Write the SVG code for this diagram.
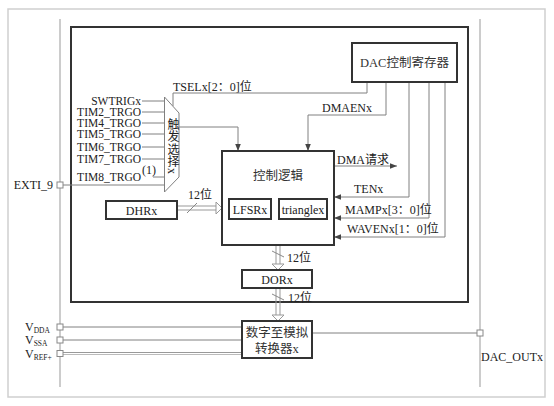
<svg xmlns="http://www.w3.org/2000/svg" width="554" height="406" viewBox="0 0 554 406">
<defs>
<style>
.t{font-family:"Liberation Serif","Noto Sans CJK SC",serif;font-size:12px;fill:#222}
.i{font-family:"Liberation Serif","Noto Sans CJK SC",serif;font-size:11.5px;fill:#222}
.c{font-family:"Liberation Serif","Noto Sans CJK SC",serif;font-size:12.5px;fill:#333}
.sub{font-size:7.5px}
.ln{fill:none;stroke:#808080;stroke-width:1}
.box{fill:#fff;stroke:#333;stroke-width:2}
.pin{fill:#fff;stroke:#888;stroke-width:1}
.bus{fill:none;stroke:#999;stroke-width:1}
.hh{fill:#fff;stroke:#999;stroke-width:1}
</style>
<marker id="ah" viewBox="0 0 8 8" refX="8" refY="4" markerWidth="7" markerHeight="7" markerUnits="userSpaceOnUse" orient="auto">
<path d="M0,0.8 L8,4 L0,7.2 Z" fill="#444"/>
</marker>
</defs>
<rect x="0" y="0" width="554" height="406" fill="#fff"/>
<rect x="8" y="9" width="537" height="388" fill="none" stroke="#cfcfcf" stroke-width="1.5"/>
<line x1="60" y1="19" x2="60" y2="387" stroke="#999" stroke-width="1"/>
<line x1="480" y1="19" x2="480" y2="387" stroke="#999" stroke-width="1"/>
<rect x="71" y="27" width="397" height="275" fill="none" stroke="#333" stroke-width="2"/>

<g id="connectors">
<line class="ln" x1="142" y1="101" x2="165" y2="101"/>
<line class="ln" x1="142" y1="112" x2="165" y2="112"/>
<line class="ln" x1="142" y1="123" x2="165" y2="123"/>
<line class="ln" x1="142" y1="134" x2="165" y2="134"/>
<line class="ln" x1="142" y1="147" x2="165" y2="147"/>
<line class="ln" x1="142" y1="159" x2="165" y2="159"/>
<line class="ln" x1="153" y1="177" x2="165" y2="177"/>
<line class="ln" x1="63" y1="185" x2="165" y2="185"/>
<polyline class="ln" points="367,82 367,93 173,93 173,106"/>
<polyline class="ln" points="386,82 386,115 308,115 308,151" marker-end="url(#ah)"/>
<polyline class="ln" points="179,127 238,127 238,151" marker-end="url(#ah)"/>
<line class="ln" x1="334" y1="166" x2="397" y2="166" marker-end="url(#ah)"/>
<polyline class="ln" points="409,82 409,197 334,197" marker-end="url(#ah)"/>
<polyline class="ln" points="429,82 429,218 334,218" marker-end="url(#ah)"/>
<polyline class="ln" points="445,82 445,237 334,237" marker-end="url(#ah)"/>
<line class="bus" x1="177" y1="206" x2="216" y2="206"/>
<line class="bus" x1="177" y1="210" x2="216" y2="210"/>
<polygon class="hh" points="216,202 222,208 216,214"/>
<line x1="187" y1="213" x2="197" y2="203" stroke="#888" stroke-width="1"/>
<line class="bus" x1="276" y1="245" x2="276" y2="264"/>
<line class="bus" x1="280" y1="245" x2="280" y2="264"/>
<polygon class="hh" points="272,264 284,264 278,270"/>
<line x1="272" y1="251" x2="284" y2="257" stroke="#888" stroke-width="1"/>
<line class="bus" x1="276" y1="288" x2="276" y2="315"/>
<line class="bus" x1="280" y1="288" x2="280" y2="315"/>
<polygon class="hh" points="272,315 284,315 278,321"/>
<line x1="272" y1="294" x2="284" y2="300" stroke="#888" stroke-width="1"/>
<line class="ln" x1="63" y1="327" x2="242" y2="327"/>
<line class="ln" x1="63" y1="340" x2="242" y2="340"/>
<line x1="63" y1="352.5" x2="242" y2="352.5" stroke="#999" stroke-width="1"/>
<line x1="63" y1="354.5" x2="242" y2="354.5" stroke="#bbb" stroke-width="1"/>
<line class="ln" x1="312" y1="333" x2="477" y2="333"/>
</g>

<g id="mux">
<polygon points="164.5,97 179,113 179,177 164.5,192" fill="#fff" stroke="#808080" stroke-width="1"/>
<text class="t" x="172" y="118" font-size="11" letter-spacing="0.5" style="writing-mode:vertical-rl">触发选择x</text>
</g>

<g id="inputs">
<text class="i" x="141" y="105" text-anchor="end">SWTRIGx</text>
<text class="i" x="141" y="116" text-anchor="end">TIM2_TRGO</text>
<text class="i" x="141" y="127" text-anchor="end">TIM4_TRGO</text>
<text class="i" x="141" y="138" text-anchor="end">TIM5_TRGO</text>
<text class="i" x="141" y="151" text-anchor="end">TIM6_TRGO</text>
<text class="i" x="141" y="163" text-anchor="end">TIM7_TRGO</text>
<text class="i" x="141" y="181" text-anchor="end">TIM8_TRGO</text>
<text class="t" x="142" y="174" font-size="6.5">(1)</text>
</g>

<g id="exti">
<text class="t" x="53" y="189" text-anchor="end">EXTI_9</text>
<rect class="pin" x="57" y="182" width="6" height="6"/>
</g>

<g id="dac-ctrl-reg">
<rect class="box" x="352" y="43" width="105" height="39"/>
<text class="c" x="404.5" y="67" text-anchor="middle">DAC控制寄存器</text>
</g>

<g id="labels">
<text class="t" x="173" y="91">TSELx[2：0]位</text>
<text class="t" x="322" y="112">DMAENx</text>
<text class="t" x="337" y="164">DMA请求</text>
<text class="t" x="354" y="193">TENx</text>
<text class="t" x="345" y="214">MAMPx[3：0]位</text>
<text class="t" x="347" y="233">WAVENx[1：0]位</text>
<text class="t" x="188" y="199">12位</text>
<text class="t" x="287" y="262">12位</text>
<text class="t" x="288" y="302">12位</text>
</g>

<g id="control-logic">
<rect class="box" x="222" y="151" width="112" height="94"/>
<text class="c" x="278" y="180" text-anchor="middle">控制逻辑</text>
</g>
<g id="lfsr">
<rect class="box" x="229" y="199" width="42" height="20"/>
<text class="t" x="250" y="213.5" text-anchor="middle">LFSRx</text>
</g>
<g id="triangle">
<rect class="box" x="279" y="199" width="48" height="20"/>
<text class="t" x="303" y="213.5" text-anchor="middle">trianglex</text>
</g>
<g id="dhr">
<rect class="box" x="106" y="201" width="71" height="18"/>
<text class="t" x="141.5" y="214.5" text-anchor="middle">DHRx</text>
</g>
<g id="dor">
<rect class="box" x="242" y="270" width="70" height="18"/>
<text class="t" x="277" y="283.5" text-anchor="middle">DORx</text>
</g>
<g id="dac">
<rect class="box" x="242" y="321" width="70" height="37"/>
<text class="c" x="277" y="337" text-anchor="middle">数字至模拟</text>
<text class="c" x="277" y="353" text-anchor="middle">转换器x</text>
</g>

<g id="supplies">
<rect class="pin" x="57" y="324" width="6" height="6"/>
<rect class="pin" x="57" y="337" width="6" height="6"/>
<rect class="pin" x="57" y="350.5" width="6" height="6"/>
<text class="t" x="25" y="331">V<tspan class="sub" dy="2">DDA</tspan></text>
<text class="t" x="25" y="344">V<tspan class="sub" dy="2">SSA</tspan></text>
<text class="t" x="25" y="357.5">V<tspan class="sub" dy="2">REF+</tspan></text>
</g>

<g id="dac-out">
<rect class="pin" x="477" y="330" width="6" height="6"/>
<text class="t" x="481" y="361">DAC_OUTx</text>
</g>
</svg>
